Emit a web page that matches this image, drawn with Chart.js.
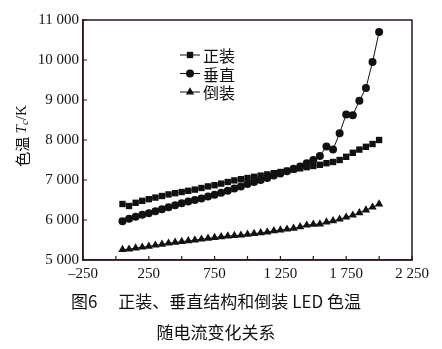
<!DOCTYPE html>
<html>
<head>
<meta charset="utf-8">
<script src="https://cdn.jsdelivr.net/npm/chart.js@4"></script>
<style>
  html, body { margin: 0; padding: 0; background: #fff; }
</style>
</head>
<body>
<canvas id="chart" width="442" height="349"></canvas>
<script>
// current (mA) for every sample
const currents = [50, 100, 150, 200, 250, 300, 350, 400, 450, 500,
  550, 600, 650, 700, 750, 800, 850, 900, 950, 1000,
  1050, 1100, 1150, 1200, 1250, 1300, 1350, 1400, 1450, 1500,
  1550, 1600, 1650, 1700, 1750, 1800, 1850, 1900, 1950, 2000];

// colour temperature, K
const zhengzhuang = [6400, 6350, 6430, 6480, 6520, 6560, 6600, 6640, 6670, 6700,
  6730, 6760, 6800, 6840, 6870, 6910, 6950, 6990, 7020, 7050,
  7080, 7110, 7140, 7170, 7200, 7230, 7260, 7290, 7320, 7350,
  7380, 7420, 7450, 7500, 7580, 7680, 7760, 7830, 7900, 8000];
const chuizhi = [5970, 6030, 6080, 6130, 6170, 6220, 6270, 6320, 6370, 6420,
  6460, 6500, 6540, 6590, 6630, 6680, 6730, 6790, 6840, 6900,
  6950, 7000, 7050, 7110, 7160, 7220, 7280, 7340, 7420, 7500,
  7600, 7840, 7760, 8170, 8640, 8620, 8980, 9300, 9950, 10700];
const daozhuang = [5260, 5270, 5300, 5320, 5340, 5370, 5390, 5420, 5440, 5460,
  5480, 5500, 5520, 5540, 5560, 5580, 5600, 5610, 5620, 5640,
  5660, 5680, 5700, 5730, 5750, 5770, 5790, 5830, 5870, 5890,
  5900, 5950, 5980, 6020, 6070, 6120, 6180, 6250, 6320, 6400];

const seriesNames = ["正装", "垂直", "倒装"];
const seriesStyles = ["rect", "circle", "triangle"];

const xTicks = [-250, 0, 250, 500, 750, 1000, 1250, 1500, 1750, 2000, 2250];
const yTicks = [5000, 6000, 7000, 8000, 9000, 10000, 11000];

const captionLines = ["图6　 正装、垂直结构和倒装 LED 色温", "随电流变化关系"];

function fmt(v) {
  if (v < 0) return "–" + fmt(-v);
  return String(v).replace(/\B(?=(\d{3})+(?!\d))/g, " ");
}

function makeSet(label, values, style) {
  return {
    label: label,
    data: currents.map((c, i) => ({ x: c, y: values[i] })),
    borderColor: "#111",
    backgroundColor: "#111",
    borderWidth: 1,
    pointStyle: style,
    pointRadius: style === "triangle" ? 4.8 : (style === "rect" ? 4.5 : 4),
    pointBorderWidth: 0,
    tension: 0
  };
}

const serif = "'Liberation Serif', 'DejaVu Serif', serif";
const cjk = "'Noto Sans CJK SC', sans-serif";
const frameColor = "rgb(40, 24, 24)";

// frame and inward ticks, legend, axis title and caption
const decor = {
  id: "decor",
  afterDraw(chart) {
    const ctx = chart.ctx;
    const a = chart.chartArea;
    const sx = chart.scales.x, sy = chart.scales.y;

    ctx.save();
    ctx.strokeStyle = frameColor;
    ctx.lineWidth = 1.5;
    ctx.strokeRect(a.left, a.top, a.right - a.left, a.bottom - a.top);
    ctx.lineWidth = 1.2;
    ctx.beginPath();
    xTicks.forEach(v => {
      const px = sx.getPixelForValue(v);
      ctx.moveTo(px, a.bottom);
      ctx.lineTo(px, a.bottom - 4);
    });
    yTicks.forEach(v => {
      const py = sy.getPixelForValue(v);
      ctx.moveTo(a.left, py);
      ctx.lineTo(a.left + 4, py);
    });
    ctx.stroke();
    ctx.restore();

    // legend
    ctx.save();
    chart.data.datasets.forEach((ds, i) => {
      const y = 55 + i * 18.5;
      ctx.strokeStyle = "#111";
      ctx.lineWidth = 1;
      ctx.beginPath();
      ctx.moveTo(180, y);
      ctx.lineTo(200, y);
      ctx.stroke();
      ctx.fillStyle = "#111";
      Chart.helpers.drawPoint(ctx, {
        pointStyle: ds.pointStyle,
        radius: ds.pointRadius,
        rotation: 0,
        borderWidth: 0
      }, 190, y);
      ctx.font = "16px " + cjk;
      ctx.textAlign = "left";
      ctx.textBaseline = "middle";
      ctx.fillText(ds.label, 203, y + 1);
    });
    ctx.restore();

    // y axis title: 色温 Tc/K
    ctx.save();
    ctx.translate(22, 136);
    ctx.rotate(-Math.PI / 2);
    ctx.fillStyle = "#111";
    ctx.textBaseline = "middle";
    ctx.textAlign = "left";
    const parts = [
      ["色温 ", "15px " + cjk, 0],
      ["T", "italic 15px " + serif, 0],
      ["c", "italic 11px " + serif, 3],
      ["/K", "15px " + serif, 0]
    ];
    let w = 0;
    parts.forEach(p => { ctx.font = p[1]; w += ctx.measureText(p[0]).width; });
    let cx = -w / 2;
    parts.forEach(p => {
      ctx.font = p[1];
      ctx.fillText(p[0], cx, p[2]);
      cx += ctx.measureText(p[0]).width;
    });
    ctx.restore();

    // caption
    ctx.save();
    ctx.fillStyle = "#111";
    ctx.textAlign = "center";
    ctx.textBaseline = "middle";
    ctx.font = "17px " + cjk;
    ctx.fillText(captionLines[0], 216, 302);
    ctx.fillText(captionLines[1], 216, 333);
    ctx.restore();
  }
};

new Chart(document.getElementById("chart"), {
  type: "line",
  data: {
    datasets: [
      makeSet(seriesNames[0], zhengzhuang, seriesStyles[0]),
      makeSet(seriesNames[1], chuizhi, seriesStyles[1]),
      makeSet(seriesNames[2], daozhuang, seriesStyles[2])
    ]
  },
  options: {
    responsive: false,
    animation: false,
    layout: { padding: { left: 0, right: 30, top: 20, bottom: 59 } },
    plugins: {
      legend: { display: false },
      tooltip: { enabled: false }
    },
    scales: {
      x: {
        type: "linear",
        min: -250,
        max: 2250,
        afterBuildTicks: function (scale) {
          scale.ticks = xTicks.map(v => ({ value: v }));
        },
        afterFit: function (scale) { scale.height = 30; },
        grid: { display: false, drawTicks: false },
        border: { display: true, color: frameColor, width: 1.5 },
        ticks: {
          autoSkip: false,
          maxRotation: 0,
          padding: 5,
          color: "#111",
          font: { family: serif, size: 15 },
          callback: function (v) {
            return (v + 250) % 500 === 0 ? fmt(v) : "";
          }
        }
      },
      y: {
        min: 5000,
        max: 11000,
        afterBuildTicks: function (scale) {
          scale.ticks = yTicks.map(v => ({ value: v }));
        },
        afterFit: function (scale) { scale.width = 83; },
        grid: { display: false, drawTicks: false },
        border: { display: true, color: frameColor, width: 1.5 },
        ticks: {
          padding: 4,
          color: "#111",
          font: { family: serif, size: 15 },
          callback: function (v) { return fmt(v); }
        }
      }
    }
  },
  plugins: [decor]
});
</script>
</body>
</html>
